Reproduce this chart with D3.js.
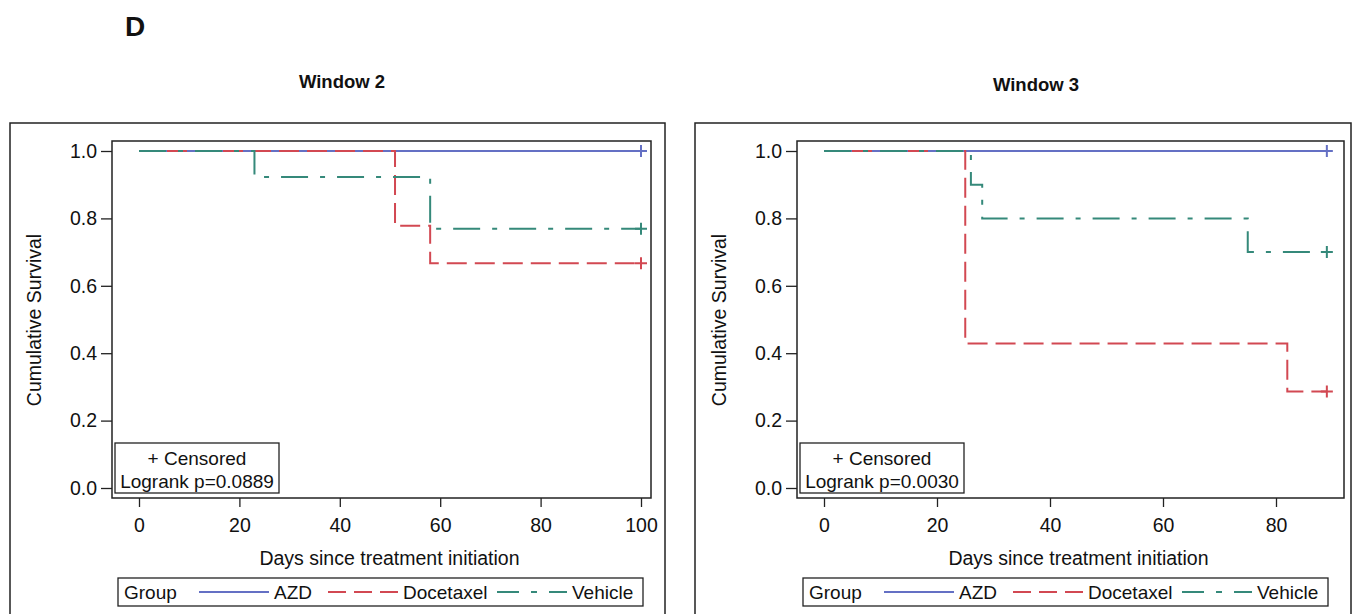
<!DOCTYPE html>
<html lang="en">
<head>
    <meta charset="UTF-8">
    <title>Kaplan-Meier survival, Windows 2 and 3</title>
    <script src="https://d3js.org/d3.v7.min.js"></script>
    <style>
        body, html {
            margin: 0;
            padding: 0;
            background: #fff;
        }
        svg text {
            font-family: "Liberation Sans", Arial, sans-serif;
            fill: #111;
        }
        .frame {
            fill: none;
            stroke: #222;
            stroke-width: 1.5px;
        }
        .tick line {
            stroke: #222;
            stroke-width: 1.3px;
        }
    </style>
</head>
<body>
    <script>
        // groups and styling keys
        const groups = ["AZD", "Docetaxel", "Vehicle"];
        const groupColor = { AZD: "#6470c4", Docetaxel: "#d24852", Vehicle: "#35897a" };
        const groupDash = { AZD: null, Docetaxel: "20,8", Vehicle: "27,12,5,12" };

        // Window 2 (step times in days, survival after each step)
        const w2AzdTime = [0, 100];
        const w2AzdSurv = [1.0, 1.0];
        const w2DocTime = [0, 51, 58, 100];
        const w2DocSurv = [1.0, 0.778, 0.667, 0.667];
        const w2VehTime = [0, 23, 58, 100];
        const w2VehSurv = [1.0, 0.923, 0.769, 0.769];

        // Window 3
        const w3AzdTime = [0, 89];
        const w3AzdSurv = [1.0, 1.0];
        const w3DocTime = [0, 25, 82, 89];
        const w3DocSurv = [1.0, 0.429, 0.286, 0.286];
        const w3VehTime = [0, 26, 28, 75, 89];
        const w3VehSurv = [1.0, 0.9, 0.8, 0.7, 0.7];

        const yTicks = [0, 0.2, 0.4, 0.6, 0.8, 1.0];
        const w2XTicks = [0, 20, 40, 60, 80, 100];
        const w3XTicks = [0, 20, 40, 60, 80];

        const svg = d3.select("body").append("svg")
            .attr("width", 1355)
            .attr("height", 614);

        svg.append("text")
            .attr("x", 125).attr("y", 36)
            .style("font-size", "28px").style("font-weight", "bold")
            .text("D");

        function zip(times, surv) {
            return times.map((t, i) => ({ t: t, s: surv[i] }));
        }

        function drawPanel(p) {
            const g = svg.append("g");

            // title
            g.append("text")
                .attr("x", p.titleX).attr("y", p.titleY)
                .attr("text-anchor", "middle")
                .style("font-size", "18.5px").style("font-weight", "bold")
                .text(p.title);

            // outer box (runs past the bottom edge)
            g.append("rect").attr("class", "frame")
                .attr("x", p.outer[0]).attr("y", 123)
                .attr("width", p.outer[1] - p.outer[0]).attr("height", 520);

            const x = d3.scaleLinear().domain([0, p.xMax]).range(p.xRange);
            const y = d3.scaleLinear().domain([0, 1]).range([488, 151]);

            // axes
            const yAxis = g.append("g")
                .attr("transform", `translate(${p.plot[0]},0)`)
                .call(d3.axisLeft(y).tickValues(yTicks).tickFormat(d3.format(".1f")).tickSize(11).tickPadding(4));
            yAxis.select(".domain").remove();
            yAxis.selectAll("text").style("font-size", "19.5px");

            const xAxis = g.append("g")
                .attr("transform", "translate(0,498)")
                .call(d3.axisBottom(x).tickValues(p.xTicks).tickSize(9).tickPadding(11));
            xAxis.select(".domain").remove();
            xAxis.selectAll("text").style("font-size", "19.5px");

            // survival curves
            const line = d3.line()
                .x(d => x(d.t))
                .y(d => y(d.s))
                .curve(d3.curveStepAfter);

            p.series.forEach(s => {
                const pts = zip(s.time, s.surv);
                g.append("path")
                    .datum(pts)
                    .attr("fill", "none")
                    .attr("stroke", groupColor[s.group])
                    .attr("stroke-width", 2)
                    .attr("stroke-dasharray", groupDash[s.group])
                    .attr("d", line);

                // censor mark at last time
                const last = pts[pts.length - 1];
                const cx = x(last.t), cy = y(last.s);
                g.append("path")
                    .attr("d", `M${cx - 6},${cy}H${cx + 6}M${cx},${cy - 6}V${cy + 6}`)
                    .attr("stroke", groupColor[s.group])
                    .attr("stroke-width", 2);
            });

            // plot frame
            g.append("rect").attr("class", "frame")
                .attr("x", p.plot[0]).attr("y", 141)
                .attr("width", p.plot[1] - p.plot[0]).attr("height", 357);

            // censor / logrank inset
            const ix = p.plot[0] + 3;
            g.append("rect").attr("class", "frame")
                .attr("x", ix).attr("y", 443)
                .attr("width", 164).attr("height", 50)
                .style("stroke-width", "1.3px");
            g.append("text")
                .attr("x", ix + 82).attr("y", 465)
                .attr("text-anchor", "middle")
                .style("font-size", "19px")
                .text("+ Censored");
            g.append("text")
                .attr("x", ix + 82).attr("y", 488)
                .attr("text-anchor", "middle")
                .style("font-size", "19px")
                .text("Logrank p=" + p.pValue);

            // axis titles
            g.append("text")
                .attr("transform", `translate(${p.plot[0] - 71},320) rotate(-90)`)
                .attr("text-anchor", "middle")
                .style("font-size", "19.5px")
                .text("Cumulative Survival");
            g.append("text")
                .attr("x", (p.plot[0] + p.plot[1]) / 2 + 8).attr("y", 565)
                .attr("text-anchor", "middle")
                .style("font-size", "19.5px")
                .text("Days since treatment initiation");

            // legend
            const lx = p.plot[0] + 6;
            const lg = g.append("g").attr("transform", `translate(${lx},578)`);
            lg.append("rect").attr("class", "frame")
                .attr("width", 525).attr("height", 28)
                .style("stroke-width", "1.3px");
            lg.append("text").attr("x", 6).attr("y", 21)
                .style("font-size", "19px").text("Group");
            const entryX = { AZD: 81, Docetaxel: 210, Vehicle: 379 };
            groups.forEach(name => {
                const ex = entryX[name];
                lg.append("line")
                    .attr("x1", ex).attr("x2", ex + 70)
                    .attr("y1", 14).attr("y2", 14)
                    .attr("stroke", groupColor[name])
                    .attr("stroke-width", 2)
                    .attr("stroke-dasharray", name === "Vehicle" ? "22,12,6,12" : (name === "Docetaxel" ? "18,8" : null));
                lg.append("text").attr("x", ex + 75).attr("y", 21)
                    .style("font-size", "19px").text(name);
            });
        }

        drawPanel({
            title: "Window 2", titleX: 342, titleY: 88,
            outer: [10, 665], plot: [112, 651],
            xMax: 100, xRange: [139, 641], xTicks: w2XTicks,
            pValue: "0.0889",
            series: [
                { group: "AZD", time: w2AzdTime, surv: w2AzdSurv },
                { group: "Docetaxel", time: w2DocTime, surv: w2DocSurv },
                { group: "Vehicle", time: w2VehTime, surv: w2VehSurv }
            ]
        });

        drawPanel({
            title: "Window 3", titleX: 1036, titleY: 91,
            outer: [695, 1351], plot: [797, 1344],
            xMax: 80, xRange: [824, 1276], xTicks: w3XTicks,
            pValue: "0.0030",
            series: [
                { group: "AZD", time: w3AzdTime, surv: w3AzdSurv },
                { group: "Docetaxel", time: w3DocTime, surv: w3DocSurv },
                { group: "Vehicle", time: w3VehTime, surv: w3VehSurv }
            ]
        });
    </script>
</body>
</html>
